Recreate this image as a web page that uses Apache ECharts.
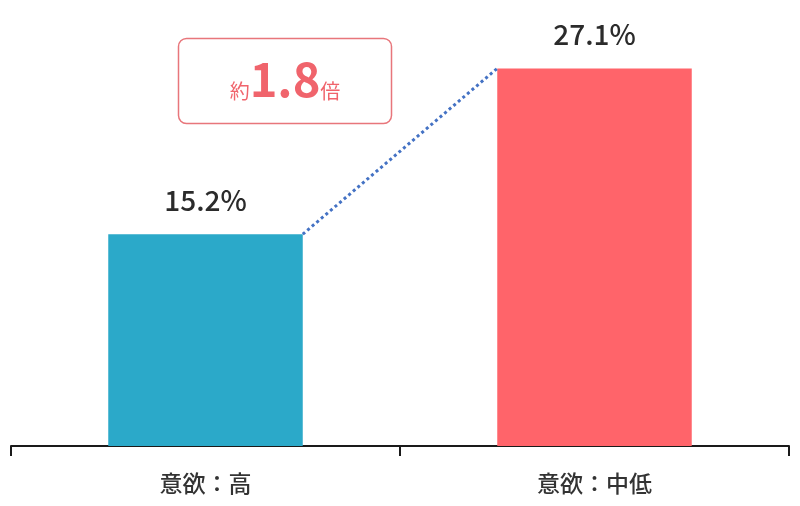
<!DOCTYPE html>
<html>
<head>
<meta charset="utf-8">
<script src="https://cdn.jsdelivr.net/npm/echarts@6/dist/echarts.min.js"></script>
<style>
html,body{margin:0;padding:0;background:#fff;}
#c{width:800px;height:506px;}
</style>
</head>
<body>
<div id="c"></div>
<script>
var categories = ['意欲：高', '意欲：中低'];
var values = [15.2, 27.1];
var barColors = ['#2BA9C9', '#FF646A'];
var ratioLabel = ['約', '1.8', '倍'];
// connector: right edge of bar 1 to left edge of bar 2 (in category units, 0..2)
var connectorX = [0.75, 1.25];

var FONT = '"Noto Sans CJK JP", "Noto Sans", sans-serif';
var chart = echarts.init(document.getElementById('c'));
chart.setOption({
  animation: false,
  backgroundColor: '#fff',
  grid: { left: 11, right: 11, top: 28, bottom: 60, containLabel: false, outerBoundsMode: 'none' },
  xAxis: [{
    type: 'category',
    data: categories,
    axisLine: { lineStyle: { color: '#1a1a1a', width: 2 } },
    axisTick: { show: true, length: 10, lineStyle: { color: '#1a1a1a', width: 2 } },
    axisLabel: { color: '#333', fontSize: 23, fontWeight: 500, fontFamily: FONT, margin: 26 }
  }, {
    type: 'value', min: 0, max: 2, show: false
  }],
  yAxis: { type: 'value', min: 0, max: 30, show: false },
  series: [{
    type: 'bar',
    xAxisIndex: 0,
    barWidth: '50%',
    data: values.map(function (v, i) { return { value: v, itemStyle: { color: barColors[i] } }; }),
    label: {
      show: true, position: 'top', distance: 20,
      formatter: function (p) { return p.value.toFixed(1) + '%'; },
      color: '#2b2b2b', fontSize: 28, fontWeight: 500, fontFamily: FONT
    }
  }, {
    type: 'line',
    xAxisIndex: 1,
    data: [[connectorX[0], values[0]], [connectorX[1], values[1]]],
    symbol: 'none',
    lineStyle: { color: '#4472C4', width: 3, type: 'dotted' },
    z: 5
  }],
  graphic: [{
    type: 'rect',
    shape: { x: 178.5, y: 38.5, width: 213, height: 85, r: 8 },
    style: { fill: '#fff', stroke: '#E8767B', lineWidth: 1.5 }
  }, {
    type: 'text',
    x: 285, y: 80,
    style: {
      text: '{a|' + ratioLabel[0] + '}{b|' + ratioLabel[1] + '}{a|' + ratioLabel[2] + '}',
      align: 'center', verticalAlign: 'middle',
      rich: {
        a: { fontSize: 20, fontFamily: FONT, fill: '#F0646C', color: '#F0646C', verticalAlign: 'bottom', lineHeight: 46, padding: [0, 0, 2, 0] },
        b: { fontSize: 47, fontWeight: 'bold', fontFamily: FONT, fill: '#F0646C', color: '#F0646C', verticalAlign: 'bottom', lineHeight: 46 }
      }
    }
  }]
});
</script>
</body>
</html>
